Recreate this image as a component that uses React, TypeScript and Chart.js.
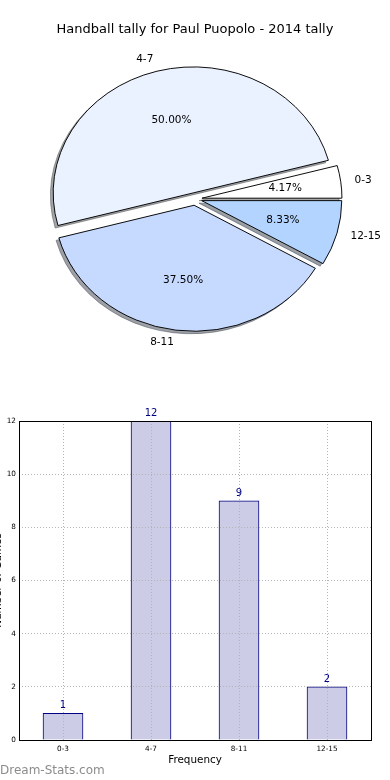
import React, { useEffect, useRef } from 'react';
import { Chart, registerables } from 'chart.js';

Chart.register(...registerables);

// ---- data ----
const chartTitle = 'Handball tally for Paul Puopolo - 2014 tally';
const categories = ['0-3', '4-7', '8-11', '12-15'];
const counts = [1, 12, 9, 2];
const sliceColors = ['#ffffff', '#ebf2ff', '#c6d9ff', '#b3d4ff'];
const yTicks = [0, 2, 4, 6, 8, 10, 12];
const xTitle = 'Frequency';
const yTitle = 'Number of Games';
const watermark = 'Dream-Stats.com';

const FONT = "'DejaVu Sans', sans-serif";

// pie is drawn counter-clockwise from 3 o'clock (matplotlib style): reverse for Chart.js clockwise drawing
const pieLabels = [...categories].reverse();
const pieValues = [...counts].reverse();
const pieColors = [...sliceColors].reverse();

const ELLIPSE = 0.9; // vertical squash of the pie
const EXPLODE = 7; // px translation of each slice
const SHADOW = 2.8;

function hexToRgb(hex: string) {
  const h = hex.replace('#', '');
  return [parseInt(h.slice(0, 2), 16), parseInt(h.slice(2, 4), 16), parseInt(h.slice(4, 6), 16)];
}

const pieDrawPlugin = {
  id: 'pieDraw',
  beforeDatasetDraw(chart: any, args: any) {
    const ctx: CanvasRenderingContext2D = chart.ctx;
    const arcs = args.meta.data;
    if (!arcs.length) return false;
    const cx = arcs[0].x;
    const cy = arcs[0].y;
    ctx.save();
    ctx.translate(cx, cy);
    ctx.scale(1, ELLIPSE);
    ctx.translate(-cx, -cy);
    // shadows
    arcs.forEach((arc: any) => {
      const mid = (arc.startAngle + arc.endAngle) / 2;
      const ox = cx + Math.cos(mid) * EXPLODE - SHADOW;
      const oy = cy + Math.sin(mid) * EXPLODE + SHADOW;
      const [r, g, b] = hexToRgb(arc.options.backgroundColor);
      const col = `rgba(${Math.round(r * 0.3)},${Math.round(g * 0.3)},${Math.round(b * 0.3)},0.5)`;
      ctx.beginPath();
      ctx.moveTo(ox, oy);
      ctx.arc(ox, oy, arc.outerRadius, arc.startAngle, arc.endAngle);
      ctx.closePath();
      ctx.fillStyle = col;
      ctx.fill();
      ctx.strokeStyle = col;
      ctx.lineWidth = 1;
      ctx.stroke();
    });
    // slices
    arcs.forEach((arc: any) => {
      const mid = (arc.startAngle + arc.endAngle) / 2;
      ctx.save();
      ctx.translate(Math.cos(mid) * EXPLODE, Math.sin(mid) * EXPLODE);
      arc.draw(ctx, chart.chartArea);
      ctx.restore();
    });
    ctx.restore();
    return false;
  },
  afterDraw(chart: any) {
    const ctx: CanvasRenderingContext2D = chart.ctx;
    const meta = chart.getDatasetMeta(0);
    const values: number[] = chart.data.datasets[0].data;
    const total = values.reduce((a, b) => a + b, 0);
    ctx.save();
    ctx.fillStyle = '#000';
    ctx.font = `10.5px ${FONT}`;
    ctx.textBaseline = 'middle';
    meta.data.forEach((arc: any, i: number) => {
      const mid = (arc.startAngle + arc.endAngle) / 2;
      const R = arc.outerRadius;
      const c = Math.cos(mid);
      const s = Math.sin(mid);
      const r1 = EXPLODE + 1.1 * R;
      ctx.textAlign = c > 0 ? 'left' : 'right';
      ctx.fillText(chart.data.labels[i], arc.x + c * r1, arc.y + s * r1 * ELLIPSE);
      const r2 = EXPLODE + 0.6 * R;
      ctx.textAlign = 'center';
      ctx.fillText(((values[i] / total) * 100).toFixed(2) + '%', arc.x + c * r2, arc.y + s * r2 * ELLIPSE);
    });
    ctx.restore();
  },
};

const barExtrasPlugin = {
  id: 'barExtras',
  afterDraw(chart: any) {
    const ctx: CanvasRenderingContext2D = chart.ctx;
    const a = chart.chartArea;
    ctx.save();
    ctx.strokeStyle = '#000';
    ctx.lineWidth = 1;
    ctx.strokeRect(Math.round(a.left) + 0.5, Math.round(a.top) + 0.5, Math.round(a.right - a.left), Math.round(a.bottom - a.top));
    // value labels
    const meta = chart.getDatasetMeta(0);
    const values: number[] = chart.data.datasets[0].data;
    ctx.fillStyle = '#000080';
    ctx.font = `10px ${FONT}`;
    ctx.textAlign = 'center';
    ctx.textBaseline = 'alphabetic';
    meta.data.forEach((bar: any, i: number) => {
      ctx.fillText(String(values[i]), bar.x, bar.y - 5);
    });
    // watermark
    ctx.fillStyle = '#8c8c8c';
    ctx.font = `12px ${FONT}`;
    ctx.textAlign = 'left';
    ctx.textBaseline = 'middle';
    ctx.fillText(watermark, 12, 381);
    ctx.restore();
  },
};

export default function App() {
  const pieRef = useRef<HTMLCanvasElement>(null);
  const barRef = useRef<HTMLCanvasElement>(null);

  useEffect(() => {
    const pie = new Chart(pieRef.current as HTMLCanvasElement, {
      type: 'pie',
      data: {
        labels: pieLabels,
        datasets: [
          {
            data: pieValues,
            backgroundColor: pieColors,
            borderColor: '#000',
            borderWidth: 1,
            clip: false as any,
          },
        ],
      },
      options: {
        responsive: false,
        animation: false,
        rotation: 90,
        radius: 140,
        layout: { padding: { top: 0, bottom: 30, left: 0, right: 0 } },
        events: [],
        plugins: {
          legend: { display: false },
          tooltip: { enabled: false },
          title: {
            display: true,
            text: chartTitle,
            color: '#000',
            font: { family: FONT, size: 13, weight: 'normal' },
            padding: { top: 22, bottom: 0.4 },
          },
        },
      } as any,
      plugins: [pieDrawPlugin],
    });

    const gridCommon = { color: '#b4b4b4', lineWidth: 1, drawTicks: false, z: 1 };
    const bar = new Chart(barRef.current as HTMLCanvasElement, {
      type: 'bar',
      data: {
        labels: categories,
        datasets: [
          {
            data: counts,
            backgroundColor: '#ccccE6',
            borderColor: '#000080',
            borderWidth: 1,
            barThickness: 40,
          },
        ],
      },
      options: {
        responsive: false,
        animation: false,
        events: [],
        layout: { padding: { top: 31, right: 19, bottom: 0, left: 0 } },
        plugins: {
          legend: { display: false },
          tooltip: { enabled: false },
          title: { display: false },
        },
        scales: {
          x: {
            type: 'category',
            offset: true,
            grid: { ...gridCommon, offset: false },
            border: { display: false, dash: [1, 2] },
            ticks: { color: '#000', font: { family: FONT, size: 7.3 }, padding: 5, maxRotation: 0, autoSkip: false },
            title: {
              display: true,
              text: xTitle,
              color: '#000',
              font: { family: FONT, size: 10.4 },
              padding: { top: 0, bottom: 13 },
            },
            afterFit: (s: any) => {
              s.height = 40;
            },
          },
          y: {
            min: 0,
            max: 12,
            grid: gridCommon,
            border: { display: false, dash: [1, 2] },
            ticks: { color: '#000', font: { family: FONT, size: 7.3 }, padding: 3 },
            afterBuildTicks: (s: any) => {
              s.ticks = yTicks.map((v) => ({ value: v }));
            },
            title: {
              display: true,
              text: yTitle,
              color: '#000',
              font: { family: FONT, size: 10.4 },
              padding: { top: 4, bottom: 4 },
            },
            afterFit: (s: any) => {
              s.width = 31;
            },
          },
        },
      } as any,
      plugins: [barExtrasPlugin],
    });

    return () => {
      pie.destroy();
      bar.destroy();
    };
  }, []);

  return (
    <div
      style={{
        position: 'fixed',
        left: 0,
        top: 0,
        width: 390,
        height: 780,
        background: '#fff',
        overflow: 'hidden',
      }}
    >
      <canvas
        ref={pieRef}
        width={390}
        height={390}
        style={{ position: 'absolute', left: 0, top: 0, width: 390, height: 390 }}
      />
      <canvas
        ref={barRef}
        width={402}
        height={390}
        style={{ position: 'absolute', left: -12, top: 390, width: 402, height: 390 }}
      />
    </div>
  );
}
